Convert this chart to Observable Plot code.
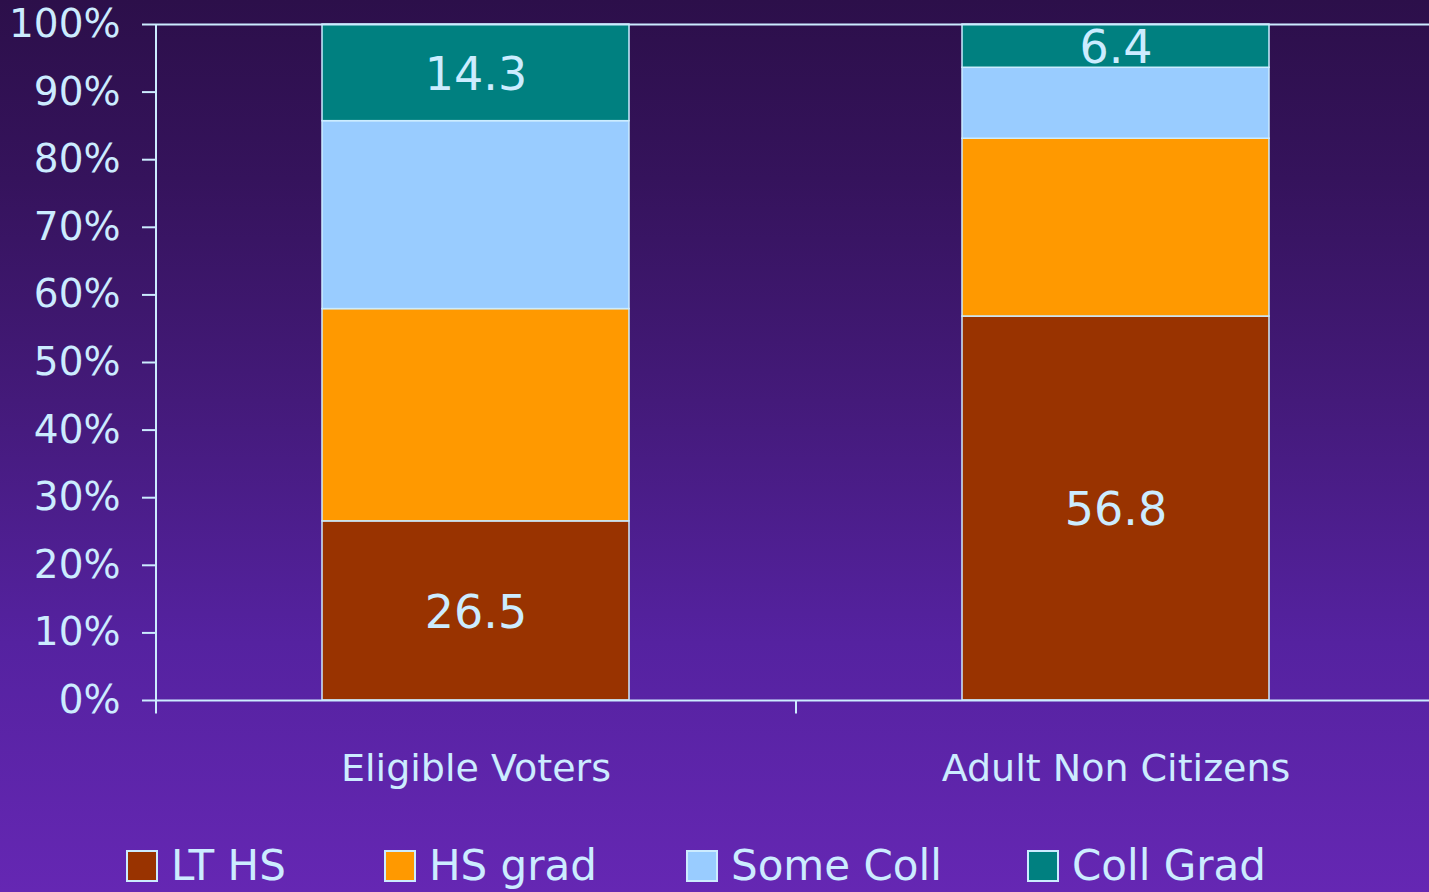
<!DOCTYPE html>
<html>
<head>
<meta charset="utf-8">
<script src="https://cdn.jsdelivr.net/npm/d3@7"></script>
<script src="https://cdn.jsdelivr.net/npm/@observablehq/plot@0.6"></script>
<style>
  html, body { margin: 0; padding: 0; overflow: hidden; }
  #frame {
    position: relative; width: 1429px; height: 892px; overflow: hidden;
    background: linear-gradient(to bottom, #2c0f4a 0%, #35135c 20%, #441a7a 45%, #5522a0 72%, #6527b3 100%);
    font-family: "DejaVu Sans", sans-serif; color: #CCECFF;
  }
  #chart { position: absolute; left: 0; top: 0; }
  #chart svg { max-width: none !important; }
  #legend {
    position: absolute; left: 126px; top: 840px; display: grid;
    grid-template-columns: 258px 302px 341px auto; align-items: center;
  }
  .item { display: flex; align-items: center; gap: 13px; font-size: 42px; line-height: 52px; }
  .swatch { width: 28px; height: 28px; border: 2px solid #CCECFF; }
</style>
</head>
<body>
<div id="frame">
  <div id="chart"></div>
  <div id="legend"></div>
</div>
<script>
const categories = ["Eligible Voters", "Adult Non Citizens"];
const levels = ["LT HS", "HS grad", "Some Coll", "Coll Grad"];
const eligibleVoters = [26.5, 31.4, 27.8, 14.3];
const adultNonCitizens = [56.8, 26.3, 10.5, 6.4];
const colors = ["#993300", "#FF9900", "#99CCFF", "#008080"];
const labelledLevels = ["LT HS", "Coll Grad"];
const yTicks = [0, 10, 20, 30, 40, 50, 60, 70, 80, 90, 100];

const seriesByCategory = [eligibleVoters, adultNonCitizens];
const data = [];
categories.forEach((c, ci) => levels.forEach((l, li) => data.push({group: c, level: l, value: seriesByCategory[ci][li]})));

const ink = "#CCECFF";
const rangeX = [156, 1436];
const step = (rangeX[1] - rangeX[0]) / categories.length;

const chart = Plot.plot({
  width: 1436,
  height: 810,
  marginTop: 24,
  marginBottom: 110,
  marginLeft: 156,
  marginRight: 0,
  style: {background: "transparent", color: ink, fontFamily: "DejaVu Sans, sans-serif", overflow: "visible"},
  x: {domain: categories, range: rangeX, paddingInner: 0.52, paddingOuter: 0.26, label: null},
  y: {domain: [0, 100], label: null},
  color: {domain: levels, range: colors},
  marks: [
    Plot.barY(data, {x: "group", y: "value", fill: "level", stroke: ink, strokeWidth: 1.5}),
    Plot.text(data, Plot.stackY({
      x: "group", y: "value", z: "level",
      text: d => labelledLevels.includes(d.level) ? d.value.toFixed(1) : null,
      fill: ink, fontSize: 46, dy: 2
    })),
    Plot.ruleY([0, 100], {stroke: ink, strokeWidth: 2}),
    Plot.ruleX(categories, {x: d => d, dx: -step / 2, y1: -2, y2: (d, i) => i === 0 ? 100 : 0, stroke: ink, strokeWidth: 2}),
    Plot.axisY({ticks: yTicks, tickFormat: d => d + "%", tickSize: 14, tickPadding: 22, fontSize: 39, strokeWidth: 2}),
    Plot.axisX({tickSize: 0, tickPadding: 54, fontSize: 38})
  ]
});
document.getElementById("chart").appendChild(chart);

const legend = document.getElementById("legend");
levels.forEach((l, i) => {
  const item = document.createElement("div");
  item.className = "item";
  const sw = document.createElement("div");
  sw.className = "swatch";
  sw.style.background = colors[i];
  const tx = document.createElement("span");
  tx.textContent = l;
  item.appendChild(sw);
  item.appendChild(tx);
  legend.appendChild(item);
});
</script>
</body>
</html>
